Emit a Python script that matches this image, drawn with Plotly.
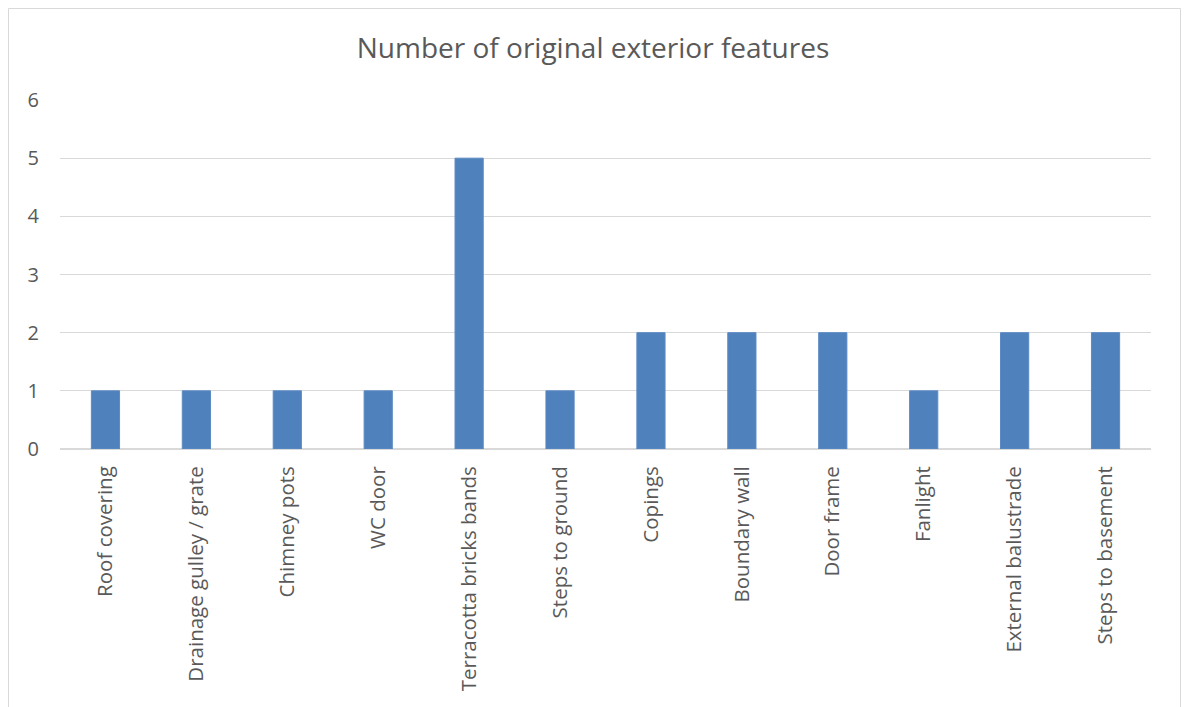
import plotly.graph_objects as go

categories = [
    "Roof covering", "Drainage gulley / grate", "Chimney pots", "WC door",
    "Terracotta bricks bands", "Steps to ground", "Copings", "Boundary wall",
    "Door frame", "Fanlight", "External balustrade", "Steps to basement",
]
counts = [1, 1, 1, 1, 5, 1, 2, 2, 2, 1, 2, 2]
y_ticks = [0, 1, 2, 3, 4, 5, 6]

text_color = "#595959"
grid_color = "#d9d9d9"
font_family = "'Open Sans', Lato, sans-serif"

fig = go.Figure(
    go.Bar(
        x=categories,
        y=counts,
        marker=dict(color="#4f81bd", line=dict(color="#5b8ac4", width=1)),
        hoverinfo="x+y",
    )
)

# plot area spans x 60..1151 px, y 100..449 px
L, R, T, B = 60, 35, 100, 258
W, H = 1186, 707
pw, ph = W - L - R, H - T - B

def px_x(p):
    return (p - L) / pw

def px_y(p):
    return (H - B - p) / ph

fig.update_layout(
    width=W,
    height=H,
    margin=dict(l=L, r=R, t=T, b=B),
    paper_bgcolor="white",
    plot_bgcolor="white",
    bargap=0.69,
    showlegend=False,
    title=dict(
        text="Number of original exterior features",
        x=0.5,
        xanchor="center",
        y=1 - 48 / H,
        yanchor="middle",
        font=dict(family=font_family, size=28, color=text_color),
    ),
    font=dict(family=font_family, size=20, color=text_color),
    xaxis=dict(
        type="category",
        tickangle=-90,
        showgrid=False,
        showline=True,
        linecolor=grid_color,
        linewidth=1,
        ticks="",
        ticklabelstandoff=8,
        tickfont=dict(family=font_family, size=20.5, color=text_color),
    ),
    yaxis=dict(
        range=[0, 6],
        tickvals=y_ticks,
        showgrid=True,
        gridcolor=grid_color,
        gridwidth=1,
        zeroline=True,
        zerolinecolor=grid_color,
        showline=False,
        ticks="",
        ticklabelstandoff=20,
        tickfont=dict(family=font_family, size=20, color=text_color),
    ),
    shapes=[
        dict(
            type="rect",
            xref="paper",
            yref="paper",
            x0=px_x(8.5),
            x1=px_x(1180.5),
            y0=px_y(740),
            y1=px_y(8.5),
            line=dict(color=grid_color, width=1),
            fillcolor="rgba(0,0,0,0)",
            layer="below",
        )
    ],
)

fig.write_html("out.html")
